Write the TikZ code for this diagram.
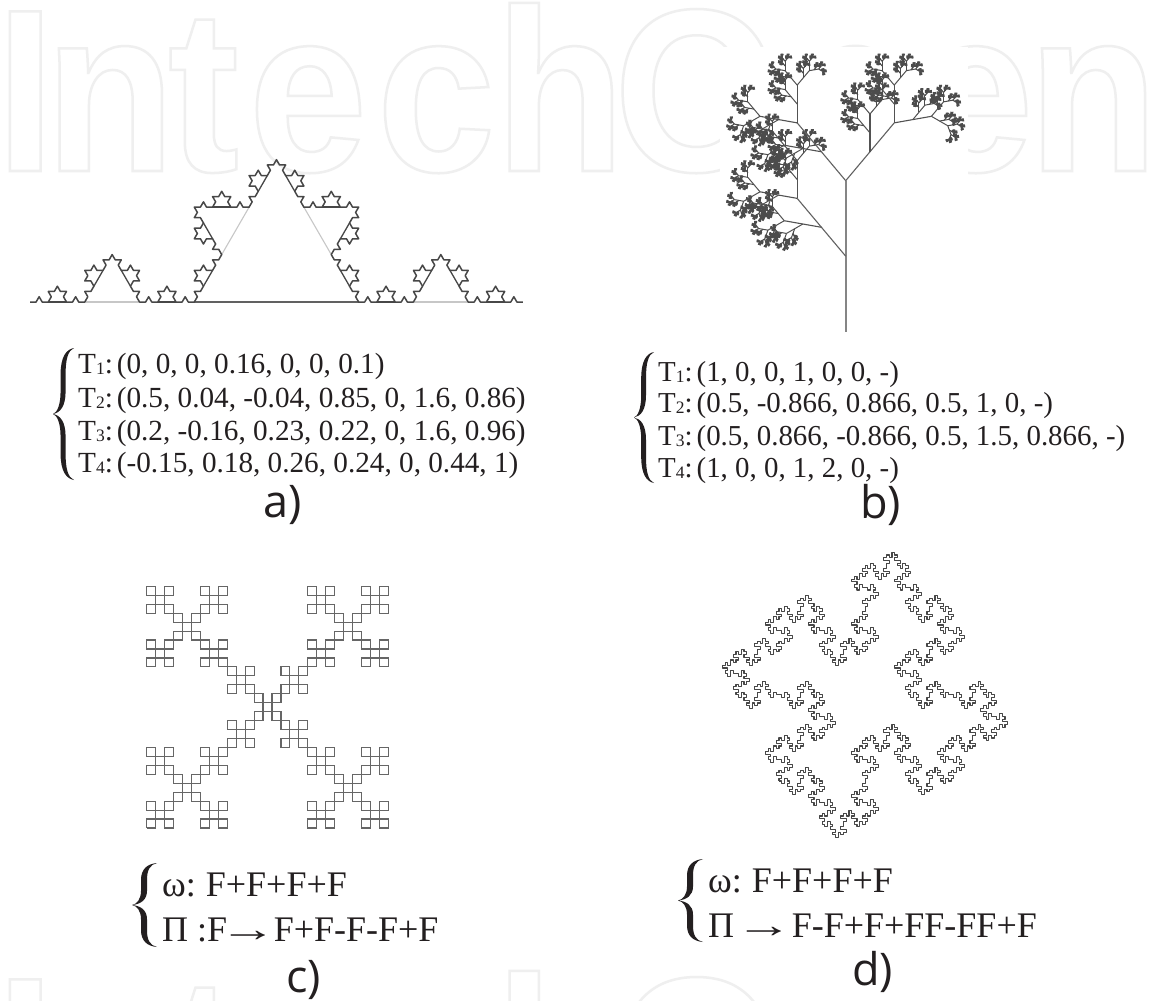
\documentclass[tikz,border=0pt]{standalone}
\usepackage{fontspec}
\setmainfont{Liberation Serif}
\newfontfamily\lblfont{Open Sans}
\newfontfamily\wmfont[FakeStretch=.92]{Liberation Sans}
\definecolor{ink}{HTML}{231F20}
\definecolor{wmgray}{HTML}{EFEFEF}
\tikzset{
  kb1/.style={draw=black!62,line width=1.3pt},
  kb2/.style={draw=black!22,line width=1.1pt},
  kb3/.style={draw=black!72,line width=1.3pt},
  kochline/.style={draw=black!72,line width=1.5pt,line join=round},
  tr0/.style={draw=black!48,line width=1.6pt},
  tr1/.style={draw=black!62,line width=1.1pt},
  tr2/.style={draw=black!68,line width=1.1pt},
  tr3/.style={draw=black!68,line width=1pt},
  tr4/.style={draw=black!70,line width=1pt},
  tr5/.style={draw=black!70,line width=1.1pt},
  tr6/.style={draw=black!70,line width=1.5pt},
  tr7/.style={draw=black!70,line width=2.1pt,line cap=round},
  boxline/.style={draw=black!60,line width=1.15pt},
  islandline/.style={draw=black!72,line width=1.1pt,line join=round},
  eq/.style={anchor=base west,inner sep=0pt,text=ink},
  eqa/.style={eq,font=\fontsize{29.2}{29.2}\selectfont},
  eqb/.style={eq,font=\fontsize{28.9}{28.9}\selectfont},
  eqc/.style={eq,font=\fontsize{36}{36}\selectfont},
  lab/.style={anchor=base west,inner sep=0pt,text=ink,font=\lblfont\fontsize{45}{45}\selectfont},
  wm/.style={anchor=base west,inner sep=0pt,text=wmgray,font=\wmfont\bfseries\fontsize{232}{232}\selectfont},
}
\newcommand\Tn[1]{T\raisebox{-1pt}{\fontsize{17.5}{17.5}\selectfont #1}:\kern4pt}
\newcommand\longarrow{\scalebox{1.6}[1]{→}}
\newcommand\wmword{\special{pdf:code q 1 Tr 2.5 w}\rlap{\kern-5pt I}\rlap{\kern44pt n}\rlap{\kern167pt t}\rlap{\kern248pt e}\rlap{\kern376pt c}\rlap{\kern494pt h}\rlap{\kern613pt O}\rlap{\kern775pt p}\rlap{\kern914pt e}\rlap{\kern1027pt n}\special{pdf:code Q}}
% turtle
\newdimen\tposx \newdimen\tposy \newcount\tdir \newcount\tmod \newcount\lev
\newcommand\tsetup[5]{% directions, step, start angle, x, y
  \global\tmod=#1\relax \global\tdir=0\relax
  \global\tposx=#4pt\relax \global\tposy=-#5pt\relax
  \pgfmathtruncatemacro\tlast{#1-1}%
  \foreach \ti in {0,...,\tlast}{%
    \pgfmathsetmacro\tvx{#2*cos(#3+\ti*360/#1)}%
    \pgfmathsetmacro\tvy{#2*sin(#3+\ti*360/#1)}%
    \expandafter\xdef\csname tvx\ti\endcsname{\tvx pt}%
    \expandafter\xdef\csname tvy\ti\endcsname{\tvy pt}%
  }%
  \pgfpathmoveto{\pgfqpoint{\tposx}{\tposy}}}
\def\tstep{\global\advance\tposx by \csname tvx\the\tdir\endcsname\relax
  \global\advance\tposy by \csname tvy\the\tdir\endcsname\relax
  \pgfpathlineto{\pgfqpoint{\tposx}{\tposy}}}
\def\tL{\global\advance\tdir by 1\relax\ifnum\tdir=\tmod\global\tdir=0\relax\fi}
\def\tR{\ifnum\tdir=0\relax\global\tdir=\tmod\relax\fi\global\advance\tdir by -1\relax}
\def\X{\ifnum\lev=0\relax\tstep\else\advance\lev by -1\relax\body\advance\lev by 1\relax\fi}
\newcommand\kochbases[5]{%
  \ifnum#1<4\relax
  \begingroup
  \pgfmathsetmacro\ddx{(#4-#2)/3}\pgfmathsetmacro\ddy{(#5-#3)/3}%
  \pgfmathsetmacro\ax{#2+\ddx}\pgfmathsetmacro\ay{#3+\ddy}%
  \pgfmathsetmacro\bx{#2+2*\ddx}\pgfmathsetmacro\by{#3+2*\ddy}%
  \pgfmathsetmacro\cx{\ax+.5*\ddx+.866*\ddy}\pgfmathsetmacro\cy{\ay+.5*\ddy-.866*\ddx}%
  \draw[kb#1] (\ax,\ay) -- (\bx,\by);
  \edef\nl{\the\numexpr#1+1\relax}%
  \edef\nxt{\noexpand\kochbases{\nl}{#2}{#3}{\ax}{\ay}%
    \noexpand\kochbases{\nl}{\ax}{\ay}{\cx}{\cy}%
    \noexpand\kochbases{\nl}{\cx}{\cy}{\bx}{\by}%
    \noexpand\kochbases{\nl}{\bx}{\by}{#4}{#5}}%
  \nxt
  \endgroup
  \fi}
\newcommand\treebr[5]{%
  \begingroup
  \pgfmathsetmacro\mx{#2+#5*sin(#4)}\pgfmathsetmacro\my{#3-#5*cos(#4)}%
  \pgfmathsetmacro\tx{#2+2*#5*sin(#4)}\pgfmathsetmacro\ty{#3-2*#5*cos(#4)}%
  \draw[tr#1] (#2,#3) -- (\mx,\my) -- (\tx,\ty);
  \ifnum#1<7\relax
    \edef\nl{\the\numexpr#1+1\relax}%
    \pgfmathsetmacro\la{#4-40}\pgfmathsetmacro\ra{#4+40}\pgfmathsetmacro\hs{#5/2}%
    \edef\nxt{\noexpand\treebr{\nl}{\mx}{\my}{\la}{\hs}%
      \noexpand\treebr{\nl}{\tx}{\ty}{\la}{\hs}%
      \noexpand\treebr{\nl}{\tx}{\ty}{\ra}{\hs}}%
    \nxt
  \fi
  \endgroup}
\newcommand\curly[4]{%
  \begin{scope}[shift={(#1,#3)},x=#2pt,y=-#4pt]
    \fill[ink] (1,0) .. controls (.62,.01) and (.36,.07) .. (.36,.2) -- (.36,.33)
      .. controls (.36,.43) and (.2,.49) .. (0,.5)
      .. controls (.2,.51) and (.36,.57) .. (.36,.67) -- (.36,.8)
      .. controls (.36,.93) and (.62,.99) .. (1,1)
      .. controls (.72,.98) and (.6,.92) .. (.6,.8) -- (.6,.67)
      .. controls (.6,.56) and (.35,.51) .. (0,.5)
      .. controls (.35,.49) and (.6,.44) .. (.6,.33) -- (.6,.2)
      .. controls (.6,.08) and (.72,.02) .. (1,0) -- cycle;
  \end{scope}}
\begin{document}
\begin{tikzpicture}[x=1pt,y=-1pt]
\useasboundingbox (0,0) rectangle (1151,1001);
\fill[white] (0,0) rectangle (1151,1001);
% watermark
\node[wm] (wmA) at (0,171) {\wmword};
\node[wm] (wmB) at (0,1139) {\wmword};
\fill[white] (720,47) rectangle (968,345);
% a) Koch
\kochbases{1}{30}{302}{523}{302}
\def\body{\X\tL\X\tR\tR\X\tL\X}
\draw[kochline] \pgfextra{\lev=4\relax\tsetup{6}{6.086}{0}{30}{302}\X};
% b) tree
\treebr{0}{845.7}{331.7}{0}{75.5}
% c)
\def\body{\X\tL\X\tR\X\tR\X\tL\X}
\draw[boxline] \pgfextra{\lev=3\relax\tsetup{4}{8.95}{0}{146.7}{828}\X\tL\X\tL\X\tL\X};
% d)
\def\body{\X\tR\X\tL\X\tL\X\X\tR\X\tR\X\tL\X}
\draw[islandline] \pgfextra{\lev=3\relax\tsetup{4}{2.69}{0}{779}{781}\X\tL\X\tL\X\tL\X};
% equations
\curly{53}{21}{348}{132}
\node[eqa] (a1) at (78,373) {\Tn{1}(0, 0, 0, 0.16, 0, 0, 0.1)};
\node[eqa] (a2) at (78,407) {\Tn{2}(0.5, 0.04, -0.04, 0.85, 0, 1.6, 0.86)};
\node[eqa] (a3) at (78,440) {\Tn{3}(0.2, -0.16, 0.23, 0.22, 0, 1.6, 0.96)};
\node[eqa] (a4) at (78,472) {\Tn{4}(-0.15, 0.18, 0.26, 0.24, 0, 0.44, 1)};
\node[lab] (la) at (263,517) {a)};
\curly{634}{20}{352}{131}
\node[eqb] (b1) at (658,381) {\Tn{1}(1, 0, 0, 1, 0, 0, -)};
\node[eqb] (b2) at (658,412) {\Tn{2}(0.5, -0.866, 0.866, 0.5, 1, 0, -)};
\node[eqb] (b3) at (658,445) {\Tn{3}(0.5, 0.866, -0.866, 0.5, 1.5, 0.866, -)};
\node[eqb] (b4) at (658,477) {\Tn{4}(1, 0, 0, 1, 2, 0, -)};
\node[lab] (lb) at (860,518) {b)};
\curly{132}{25}{863}{84}
\node[eqc] (c1) at (162,896) {ω:\kern10pt F+F+F+F};
\node[eqc] (c2) at (162,941) {Π :F\kern-8pt\longarrow\kern-3pt F+F-F-F+F};
\node[lab] (lc) at (286,992) {c)};
\curly{678}{25}{859}{83}
\node[eqc] (d1) at (708,892) {ω:\kern10pt F+F+F+F};
\node[eqc] (d2) at (708,937) {Π \kern-8pt\longarrow\kern-1pt F-F+F+FF-FF+F};
\node[lab] (ld) at (852,985) {d)};
\end{tikzpicture}
\end{document}
